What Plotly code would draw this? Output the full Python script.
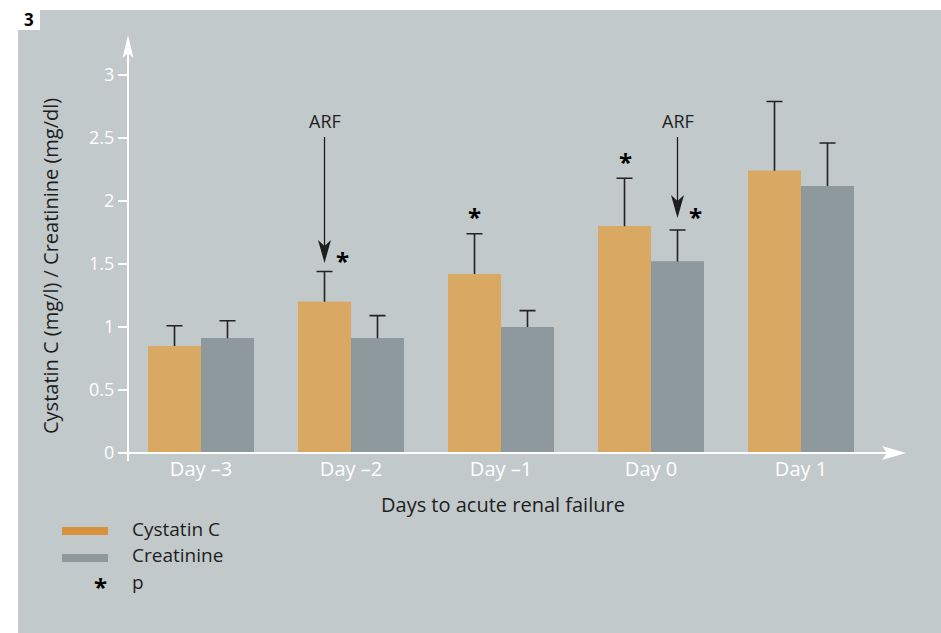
import plotly.graph_objects as go

# ---------------- data ----------------
days = ["Day –3", "Day –2", "Day –1", "Day 0", "Day 1"]
cystatin = [0.85, 1.20, 1.42, 1.80, 2.24]
cystatin_upper = [1.01, 1.44, 1.74, 2.18, 2.79]
creatinine = [0.91, 0.91, 1.00, 1.52, 2.12]
creatinine_upper = [1.05, 1.09, 1.13, 1.77, 2.46]
y_ticks = [0, 0.5, 1, 1.5, 2, 2.5, 3]
y_tick_labels = ["0", "0.5", "1", "1.5", "2", "2.5", "3"]
series_names = ["Cystatin C", "Creatinine"]

# ---------------- style ----------------
ORANGE = "#d9a862"
GREY = "#8e999e"
LEG_ORANGE = "#d8913b"
BG = "#c1c9cb"
DARK = "#1e1e1e"
FONT = "Open Sans"

W, H = 941, 633
L, R, T, B = 128, 905, 38, 455          # plot area in pixels
ZERO = 453                               # pixel row of y = 0
UNIT = 126                               # pixels per y unit
XR = [-0.4867, 4.6933]
YR = [-(B - ZERO) / UNIT, (ZERO - T) / UNIT]
BW = 0.3533                              # bar width (category units)


def px(x):
    return (x - L) / (R - L)


def py(y):
    return (B - y) / (B - T)


def dy(pix):  # pixel row -> data y
    return (ZERO - pix) / UNIT


idx = list(range(len(days)))
cys_err = [u - v for u, v in zip(cystatin_upper, cystatin)]
cre_err = [u - v for u, v in zip(creatinine_upper, creatinine)]

fig = go.Figure()
eb = dict(type="data", symmetric=True, color="#222222", thickness=1.6, width=8)
# bars with error bars (symmetric; lower half hidden by the plain copies)
fig.add_trace(go.Bar(x=idx, y=cystatin, offset=-BW, width=BW, marker_color=ORANGE,
                     marker_line_width=0, error_y=dict(array=cys_err, **eb),
                     name=series_names[0], showlegend=False))
fig.add_trace(go.Bar(x=idx, y=creatinine, offset=0, width=BW, marker_color=GREY,
                     marker_line_width=0, error_y=dict(array=cre_err, **eb),
                     name=series_names[1], showlegend=False))
fig.add_trace(go.Bar(x=idx, y=cystatin, offset=-BW, width=BW, marker_color=ORANGE,
                     marker_line_width=0, showlegend=False, hoverinfo="skip"))
fig.add_trace(go.Bar(x=idx, y=creatinine, offset=0, width=BW, marker_color=GREY,
                     marker_line_width=0, showlegend=False, hoverinfo="skip"))

shapes = []
# panel background and label box
shapes.append(dict(type="rect", xref="paper", yref="paper", x0=px(18), x1=px(950),
                   y0=py(10), y1=py(640), fillcolor=BG, line_width=0, layer="below"))
shapes.append(dict(type="rect", xref="paper", yref="paper", x0=px(17), x1=px(40),
                   y0=py(-5), y1=py(30), fillcolor="white", line_width=0, layer="below"))
# y axis line + arrow
shapes.append(dict(type="line", xref="paper", yref="paper", x0=px(128), x1=px(128),
                   y0=py(461), y1=py(50), line=dict(color="white", width=2)))
shapes.append(dict(type="path", xref="paper", yref="paper", xsizemode="pixel", ysizemode="pixel",
                   xanchor=px(128), yanchor=py(35),
                   path="M0,0 L-5.5,-23 L0,-18 L5.5,-23 Z", fillcolor="white", line_width=0))
# x axis line + arrow
shapes.append(dict(type="line", xref="paper", yref="paper", x0=px(119), x1=px(890),
                   y0=py(ZERO), y1=py(ZERO), line=dict(color="white", width=2)))
shapes.append(dict(type="path", xref="paper", yref="paper", xsizemode="pixel", ysizemode="pixel",
                   xanchor=px(906), yanchor=py(ZERO),
                   path="M0,0 L-24,7 L-19,0 L-24,-7 Z", fillcolor="white", line_width=0))

# ARF arrows (Day -2 over Cystatin C bar, Day 0 over Creatinine bar)
arf = [(1 - BW / 2, dy(263)), (3 + BW / 2, dy(218))]
for ax_, tip in arf:
    shapes.append(dict(type="line", xref="x", yref="y", x0=ax_, x1=ax_, y0=dy(137),
                       y1=tip + 13 / UNIT, line=dict(color=DARK, width=1.3)))
    shapes.append(dict(type="path", xref="x", yref="y", xsizemode="pixel", ysizemode="pixel",
                       xanchor=ax_, yanchor=tip,
                       path="M0,0 L-6.5,23 L0,17 L6.5,23 Z", fillcolor=DARK, line_width=0))

# legend swatches
shapes.append(dict(type="rect", xref="paper", yref="paper", x0=px(62), x1=px(108),
                   y0=py(535), y1=py(527), fillcolor=LEG_ORANGE, line_width=0))
shapes.append(dict(type="rect", xref="paper", yref="paper", x0=px(62), x1=px(108),
                   y0=py(562), y1=py(554), fillcolor=GREY, line_width=0))

ann = []


def text(t, x, y, size, color=DARK, xanchor="center", angle=0):
    ann.append(dict(text=t, xref="paper", yref="paper", x=px(x), y=py(y), xanchor=xanchor,
                    yanchor="middle", textangle=angle, showarrow=False,
                    font=dict(family=FONT, size=size, color=color)))


text("<b>3</b>", 29, 19, 17, "black")
for ax_, tip in arf:
    ann.append(dict(text="ARF", xref="x", yref="y", x=ax_, y=dy(121), xanchor="center",
                    yanchor="middle", showarrow=False,
                    font=dict(family=FONT, size=18, color=DARK)))
# significance stars
for sx, sy in [(342, 257), (474, 213), (625, 158), (695, 213)]:
    text("<b>*</b>", sx, sy + 3, 24, "black")
# axis titles
text("Days to acute renal failure", 503, 505, 20)
text("Cystatin C (mg/l) / Creatinine (mg/dl)", 50, 266, 20, angle=-90)
# legend texts
for label, yy in [(series_names[0], 529), (series_names[1], 555), ("p", 582)]:
    text(label, 130, yy, 19, xanchor="left")
text("<b>*</b>", 100, 586, 24, "black")

fig.update_layout(
    width=W, height=H,
    margin=dict(l=L, r=W - R, t=T, b=H - B, pad=0),
    paper_bgcolor="white", plot_bgcolor="rgba(0,0,0,0)",
    barmode="overlay", showlegend=False,
    shapes=shapes, annotations=ann,
    xaxis=dict(range=XR, tickvals=idx, ticktext=days, showgrid=False, zeroline=False,
               showline=False, ticks="", tickfont=dict(family=FONT, size=20, color="white")),
    yaxis=dict(range=YR, tickvals=y_ticks, ticktext=y_tick_labels, showgrid=False,
               zeroline=False, showline=False, ticks="outside", ticklen=9, tickwidth=1.5,
               tickcolor="white", tickfont=dict(family=FONT, size=18, color="white")),
)

fig.write_html("out.html", config={"displayModeBar": False},
               post_script="document.body.style.margin='0px';")
